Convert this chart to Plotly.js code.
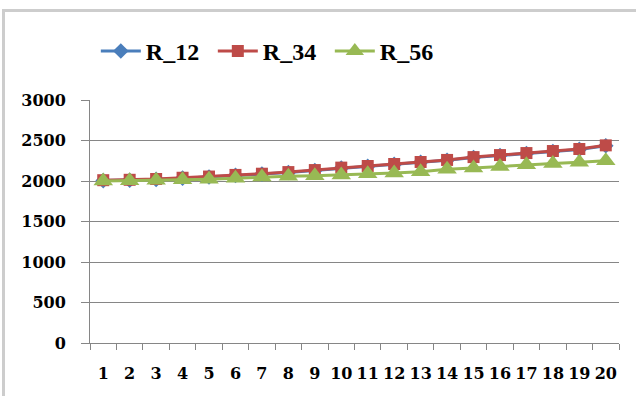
<!DOCTYPE html>
<html>
<head>
<meta charset="utf-8">
<script src="https://cdn.plot.ly/plotly-3.0.1.min.js"></script>
<style>
  html, body { margin: 0; padding: 0; width: 636px; height: 396px; overflow: hidden; background: #fff; }
  #frame { position: absolute; left: 2px; top: 9px; width: 700px; height: 500px; border: 3px solid #cdcdcd; box-sizing: border-box; }
  #chart { position: absolute; left: 0; top: 0; width: 636px; height: 396px; }
</style>
</head>
<body>
<div id="frame"></div>
<div id="chart"></div>
<script>
const categories = ["1","2","3","4","5","6","7","8","9","10","11","12","13","14","15","16","17","18","19","20"];
const R_12 = [2005, 2010, 2020, 2035, 2050, 2070, 2085, 2105, 2130, 2160, 2180, 2205, 2230, 2255, 2290, 2315, 2340, 2365, 2390, 2435];
const R_34 = [2010, 2015, 2025, 2040, 2055, 2075, 2090, 2110, 2135, 2165, 2185, 2210, 2235, 2260, 2295, 2320, 2345, 2370, 2395, 2440];
const R_56 = [2000, 2003, 2008, 2015, 2022, 2035, 2050, 2058, 2065, 2075, 2090, 2100, 2115, 2145, 2160, 2180, 2200, 2215, 2230, 2250];
const seriesNames = ["R_12", "R_34", "R_56"];

const traces = [
  { x: categories, y: R_12, name: seriesNames[0], type: "scatter", mode: "lines+markers",
    line: { color: "#4a7ebb", width: 3 }, marker: { symbol: "diamond", size: 12, color: "#4a7ebb" } },
  { x: categories, y: R_34, name: seriesNames[1], type: "scatter", mode: "lines+markers",
    line: { color: "#be4b48", width: 3 }, marker: { symbol: "square", size: 12, color: "#be4b48" } },
  { x: categories, y: R_56, name: seriesNames[2], type: "scatter", mode: "lines+markers",
    line: { color: "#98b954", width: 3 }, marker: { symbol: "triangle-up", size: 17, color: "#98b954" } }
];

const tickFont = { family: "DejaVu Serif", size: 16, color: "#000", weight: "bold" };

const layout = {
  width: 636, height: 396,
  margin: { l: 90, r: 17, t: 100, b: 53 },
  paper_bgcolor: "rgba(0,0,0,0)",
  plot_bgcolor: "rgba(0,0,0,0)",
  showlegend: true,
  legend: {
    orientation: "h", x: 0.011, xanchor: "left", y: 1.2, yanchor: "middle",
    font: { family: "Liberation Serif", size: 24, color: "#000", weight: "bold" },
    itemwidth: 40, tracegroupgap: 0,
    entrywidth: 62, entrywidthmode: "pixels"
  },
  xaxis: {
    type: "category",
    tickmode: "array", tickvals: categories, ticktext: categories,
    tickangle: 0,
    tickson: "boundaries", ticks: "outside", ticklen: 6, tickcolor: "#868686",
    showline: true, linecolor: "#868686", linewidth: 1,
    showgrid: false, zeroline: false,
    tickfont: tickFont,
    ticklabelstandoff: 16,
    range: [-0.5, 19.5]
  },
  yaxis: {
    range: [0, 3000], dtick: 500, tick0: 0,
    ticks: "outside", ticklen: 8, tickcolor: "#868686",
    showline: true, linecolor: "#868686", linewidth: 1,
    showgrid: true, gridcolor: "#868686", gridwidth: 1,
    zeroline: false,
    tickfont: tickFont,
    ticklabelstandoff: 12
  }
};

Plotly.newPlot("chart", traces, layout, { displayModeBar: false, staticPlot: true });
</script>
</body>
</html>
